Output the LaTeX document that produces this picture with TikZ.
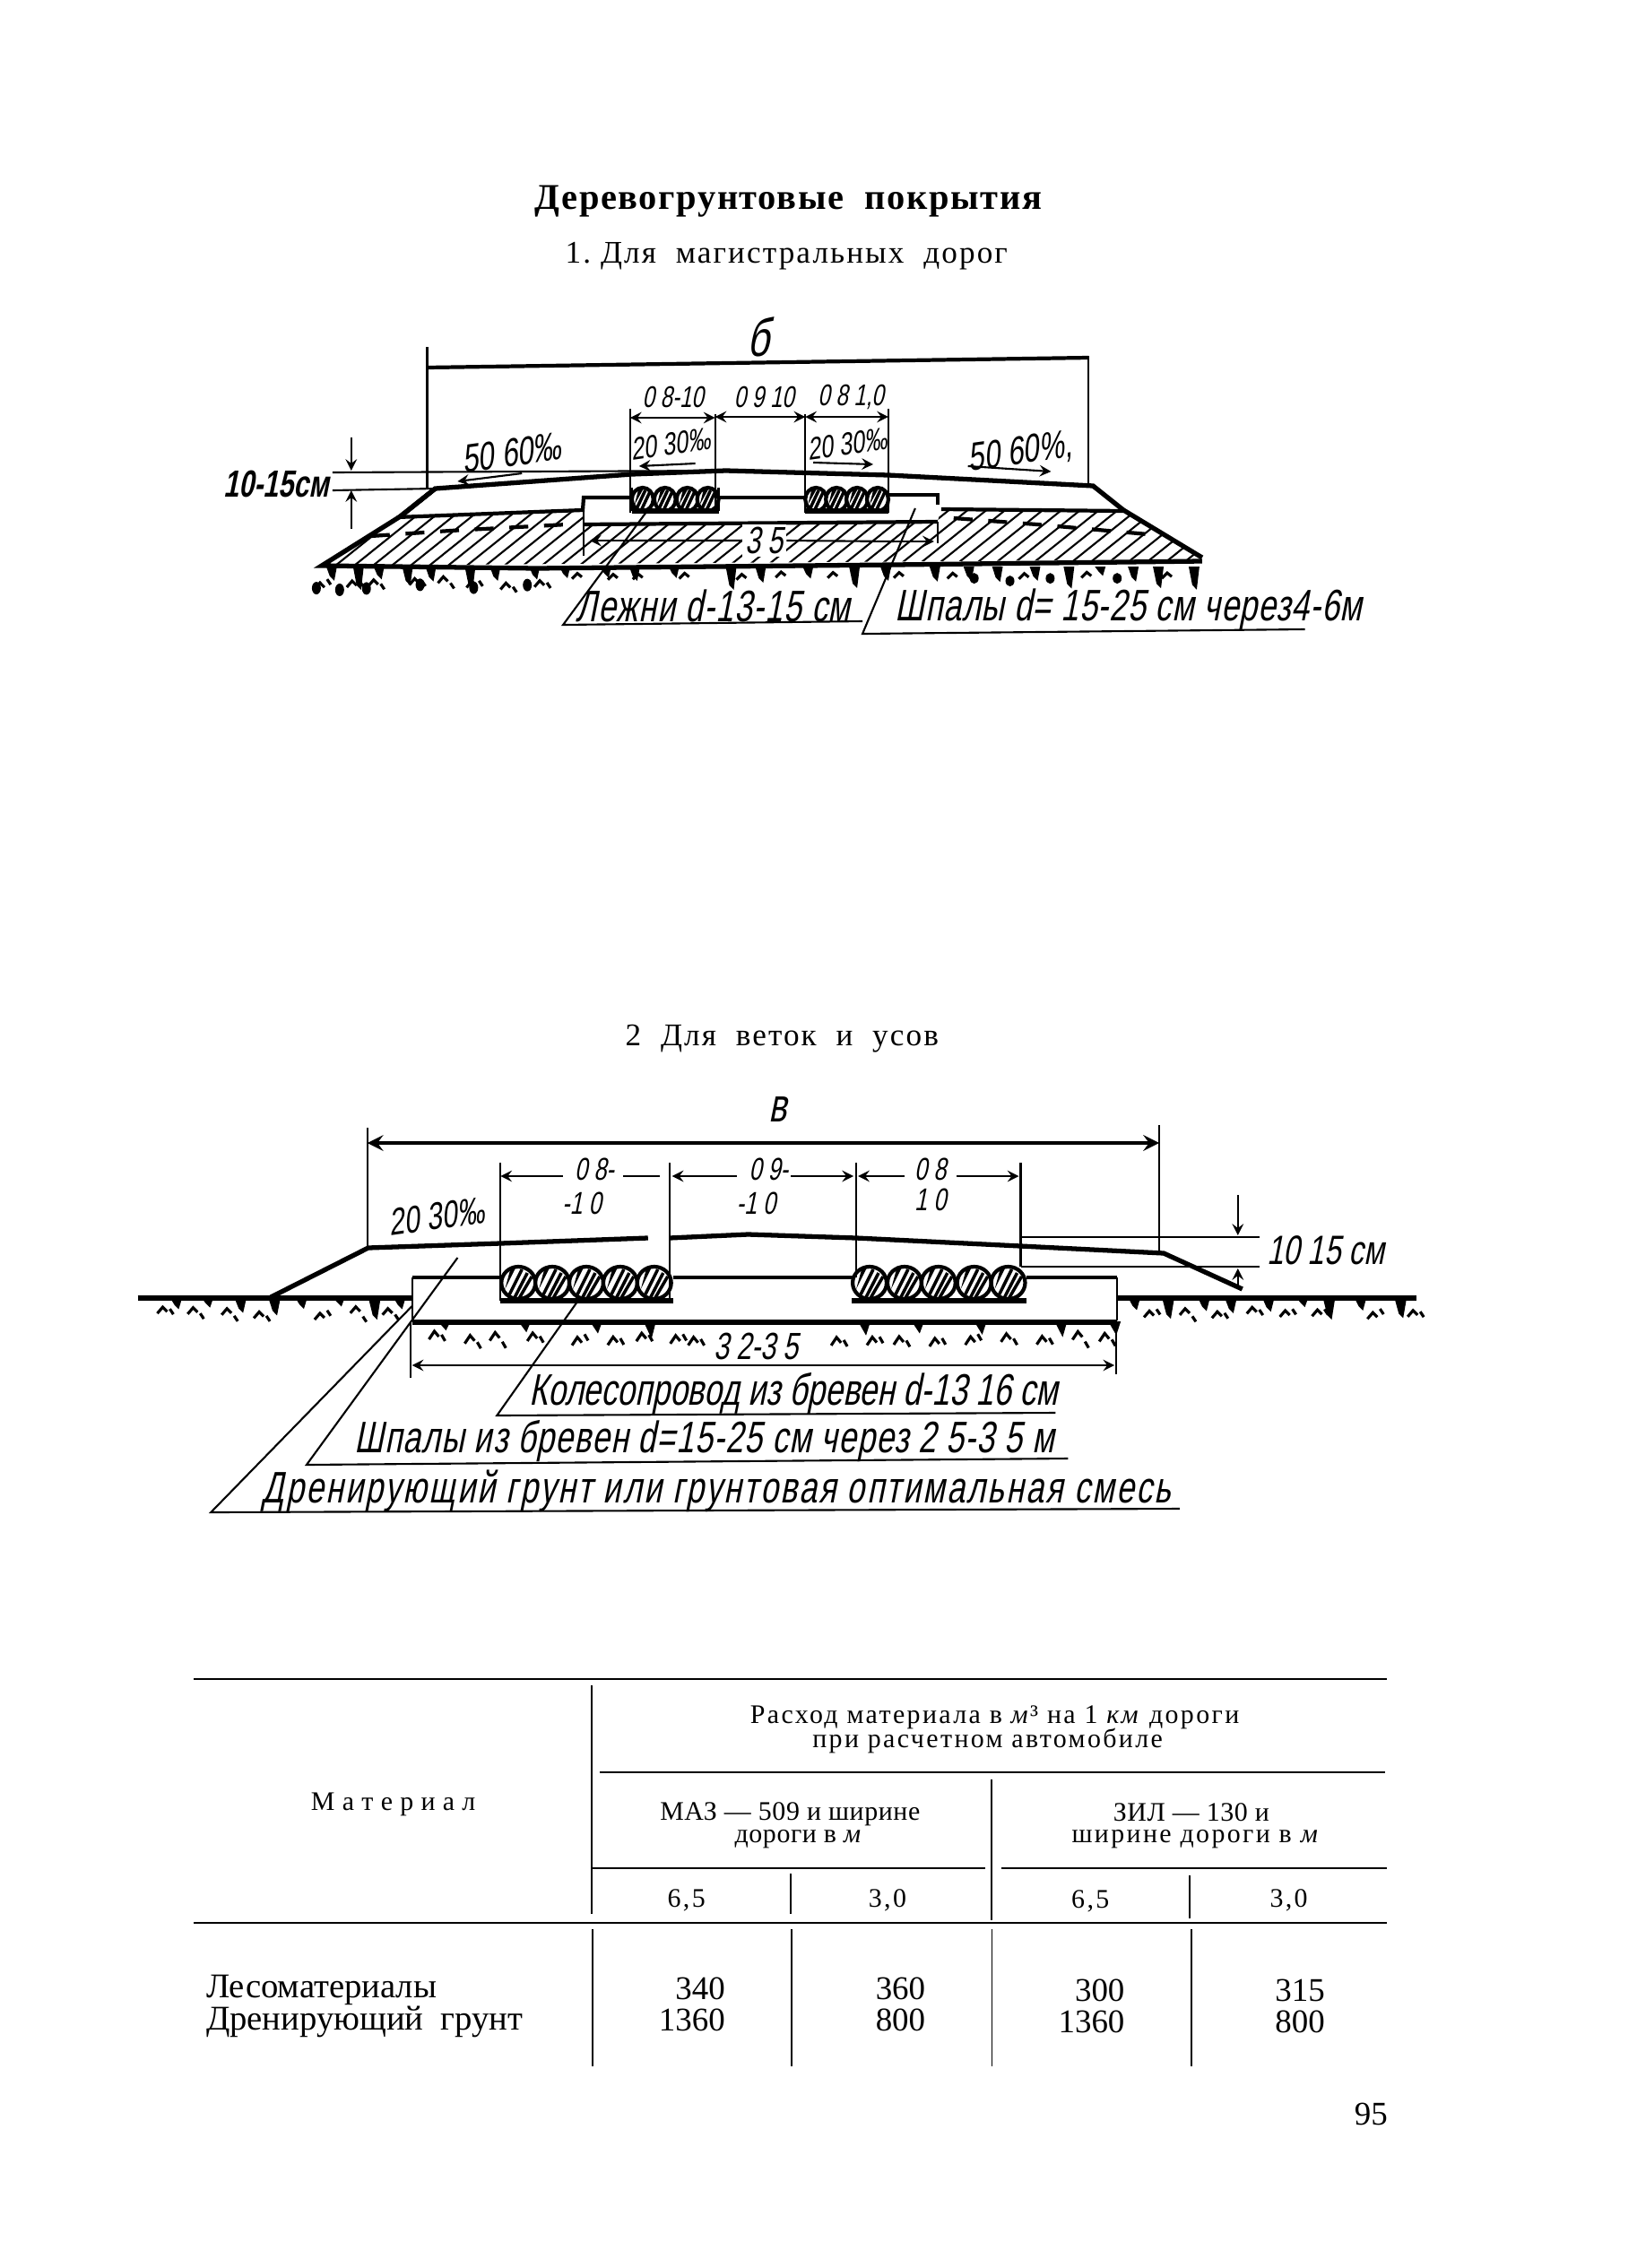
\documentclass[tikz,border=0pt]{standalone}
\usepackage{fontspec}
\setmainfont{Liberation Serif}
\newfontfamily\handfont[FakeSlant=.2,FakeStretch=.72]{Liberation Sans}
\newfontfamily\wideserif[LetterSpace=8]{Liberation Serif}
\newcommand{\hs}[1]{\handfont\fontsize{#1}{#1}\selectfont}
\newcommand{\hw}[2]{\handfont\fontsize{#1}{#1}\selectfont\addfontfeature{LetterSpace=#2}}
\newcommand{\ts}[1]{\fontsize{#1}{#1}\selectfont}
\begin{document}
\begin{tikzpicture}[x=0.00996cm,y=-0.01cm,>=stealth,
    thinl/.style={line width=.6pt},
    thickl/.style={line width=1.2pt},
    heavyl/.style={line width=1.5pt},
    hand/.style={inner sep=0pt},
    tabl/.style={inner sep=0pt,align=center,font=\wideserif\ts{8.5}},
    tnum/.style={inner sep=0pt,anchor=east,font=\ts{10.5}},
    trule/.style={line width=.8pt},
    tvert/.style={line width=.5pt}]
    \useasboundingbox (0,0) rectangle (1831,2530);
    \pgfmathsetseed{95}

    % headings
    \node[inner sep=0pt,font=\bfseries\fontsize{11.5}{12}\selectfont] (title) at (882,225) {\addfontfeature{LetterSpace=4}Деревогрунтовые\ \ покрытия};
    \node[inner sep=0pt,font=\fontsize{10}{12}\selectfont] (sub1) at (880,286) {\addfontfeature{LetterSpace=6}1.\ Для\ \ магистральных\ \ дорог};
    \node[inner sep=0pt,font=\fontsize{10}{12}\selectfont] (sub2) at (875,1159) {\addfontfeature{LetterSpace=6}2\ \ Для\ \ веток\ \ и\ \ усов};

    % road 1: hatching
    \begin{scope}
        \clip (360,631) -- (444,577) -- (652,569) -- (652,585) -- (1049,582) -- (1053,568) -- (1257,570) -- (1345,624) -- cycle;
        \foreach \hx in {280,301,...,1400}
            \draw[thinl] (\hx,640) -- ++(100,-80);
    \end{scope}
    \draw[thickl,dash pattern=on 6pt off 5pt] (415,598) -- (504,592) -- (635,585);
    \draw[thickl,dash pattern=on 6pt off 5pt] (1067,578) -- (1160,585) -- (1296,597);

    % road 1: outline
    \draw[heavyl] (448,576) -- (487,545) -- (707,529) -- (812,525) -- (994,530) -- (1223,542) -- (1257,569) -- (1345,622);
    \draw[heavyl] (487,545) -- (448,576) -- (360,631) -- (600,634) -- (1000,630) -- (1345,626);
    \draw[thickl] (444,577) -- (652,569) -- (653,555) -- (707,555);
    \draw[thickl] (804,555) -- (901,555);
    \draw[thickl] (994,552) -- (1049,552) -- (1049,563);
    \draw[thickl] (1053,568) -- (1257,570);
    \draw[thickl] (652,585) -- (1049,582);
    \draw[thinl] (653,569) -- (653,620);
    \draw[thinl] (1049,582) -- (1049,606);

    % road 1: logs
    \foreach \lx in {719,744,769,792,913,936,959,982} {
        \fill[white] (\lx,557) ellipse (12 and 13);
        \draw[thickl] (\lx,557) ellipse (12 and 13);
        \draw[line width=1pt] (\lx-6,566) -- (\lx+3,547) (\lx-1,568) -- (\lx+8,549);
        \fill (\lx-5,547) -- (\lx+1,545) -- (\lx-9,563) -- cycle;
    }
    \draw[heavyl] (707,570) -- (804,570) (901,570) -- (994,570);
    \draw[thinl] (707,544) -- (707,570) (804,544) -- (804,570);
    \draw[thinl] (901,544) -- (901,570) (994,544) -- (994,570);

    % road 1: soil
    \foreach \mx in {365,395,418,450,476,520,548,592,626,672,704,748,812,845,898,950,985,1040,1078,1110,1152,1190,1225,1262,1290,1330}
        \fill (\mx,632) -- ++(12,0) -- ++(-3,{10+rnd*16}) -- ++(-5,-5) -- cycle;
    \foreach \mx in {352,388,412,458,490,522,560,598}
        \draw[line width=.9pt] (\mx,{650+rnd*8}) -- ++(6,-7) -- ++(5,5) (\mx+14,{645+rnd*10}) -- ++(4,6);
    \foreach \mx in {640,680,708,760,824,868,926,1000,1060,1140,1210,1300}
        \draw[line width=.9pt] (\mx,{644+rnd*3}) -- ++(6,-6) -- ++(5,4);
    \foreach \mx in {354,380,410,470,530,590}
        \fill (\mx,{650+rnd*10}) ellipse (5 and 7);
    \foreach \mx in {1090,1130,1175,1250}
        \fill (\mx,{645+rnd*4}) ellipse (5 and 6);

    % road 1: dimensions
    \draw[thinl] (478,387) -- (478,545);
    \draw[thinl] (1218,397) -- (1218,540);
    \draw[thickl] (478,410) -- (1218,399);
    \node[hand,font=\hs{17}] (b1) at (848,376) {б};
    \draw[thinl] (705,456) -- (705,572);
    \draw[thinl] (800,462) -- (800,572);
    \draw[thinl] (901,462) -- (901,572);
    \draw[thinl] (994,456) -- (994,572);
    \draw[thinl,<->] (705,466) -- (800,466);
    \draw[thinl,<->] (800,465) -- (901,465);
    \draw[thinl,<->] (901,465) -- (994,465);
    \node[hand,font=\hs{9.5}] (w1a) at (753,443) {0 8-10};
    \node[hand,font=\hs{9.5}] (w1b) at (855,443) {0 9 10};
    \node[hand,font=\hs{9.5}] (w1c) at (952,443) {0 8 1,0};
    \node[hand,font=\hs{10},rotate=8] (s1a) at (750,495) {20 30‰};
    \node[hand,font=\hs{10},rotate=8] (s1b) at (948,495) {20 30‰};
    \node[hand,font=\hs{12.5},rotate=8] (s1c) at (572,505) {50 60‰};
    \node[hand,font=\hs{12.5},rotate=8] (s1d) at (1141,505) {50 60\%,};
    \draw[thinl,->] (778,517) -- (715,520);
    \draw[thinl,->] (910,516) -- (977,518);
    \draw[thinl,->] (584,528) -- (512,537);
    \draw[thinl,->] (1083,520) -- (1176,526);
    \node[hand,font=\bfseries\hs{12}] (h1) at (309,540) {10-15см};
    \draw[thinl] (372,527) -- (812,525);
    \draw[thinl] (372,547) -- (487,545);
    \draw[thinl,->] (393,488) -- (393,525);
    \draw[thinl,->] (393,590) -- (393,547);
    \draw[thinl] (700,603) -- (835,603) (880,603) -- (1000,604);
    \draw[thinl,->] (700,603) -- (660,603);
    \draw[thinl,->] (1000,604) -- (1045,604);
    \node[hand,font=\hs{12},fill=white,inner sep=1pt] (t1) at (855,603) {3 5};

    % road 1: callouts
    \draw[thinl] (724,570) -- (630,697) -- (965,693);
    \node[hand,font=\hw{14}{2.5}] (c1a) at (798,676) {Лежни d-13-15 см};
    \draw[thinl] (1024,567) -- (965,707) -- (1460,702);
    \node[hand,font=\hw{14}{2}] (c1b) at (1263,680) {Шпалы d= 15-25 см через4-6м};

    % road 2: surface
    \draw[heavyl] (303,1447) -- (412,1392) -- (560,1387) -- (725,1381);
    \draw[heavyl] (749,1381) -- (837,1377) -- (958,1381) -- (1142,1390) -- (1302,1398) -- (1390,1438);
    \draw[heavyl] (154,1448) -- (460,1448);
    \draw[heavyl] (1250,1448) -- (1585,1448);
    \draw[thickl] (461,1425) -- (560,1425);
    \draw[thickl] (753,1425) -- (958,1425);
    \draw[thickl] (1148,1425) -- (1250,1425);
    \draw[thinl] (461,1425) -- (461,1473);
    \draw[thinl] (1250,1425) -- (1250,1473);
    \draw[heavyl] (461,1475) -- (1250,1475);

    % road 2: logs
    \foreach \lx in {580,618,656,694,732,973,1012,1050,1090,1128} {
        \fill[white] (\lx,1431) ellipse (19 and 18);
        \draw[thickl] (\lx,1431) ellipse (19 and 18);
        \draw[line width=1pt] (\lx-10,1444) -- (\lx+4,1416) (\lx-4,1447) -- (\lx+10,1420) (\lx+1,1448) -- (\lx+15,1424);
        \fill (\lx-9,1416) -- (\lx-3,1414) -- (\lx-15,1438) -- cycle;
    }
    \draw[heavyl] (560,1451) -- (753,1451) (953,1451) -- (1148,1451);
    \draw[thinl] (560,1413) -- (560,1451) (749,1413) -- (749,1451);

    % road 2: soil
    \foreach \mx in {190,225,262,300,330,372,412,440,1262,1300,1340,1370,1412,1450,1480,1515,1560}
        \fill (\mx,1447) -- ++(14,0) -- ++(-4,{10+rnd*16}) -- ++(-5,-5) -- cycle;
    \foreach \mx in {176,210,248,284,352,392,428,1280,1320,1356,1395,1432,1468,1530,1575}
        \draw[line width=.9pt] (\mx,{1464+rnd*8}) -- ++(6,-7) -- ++(5,5) (\mx+14,{1460+rnd*10}) -- ++(4,6);
    \foreach \mx in {480,520,548,590,640,680,712,750,770,930,970,1000,1040,1080,1120,1160,1200,1230}
        \draw[line width=.9pt] (\mx,{1494+rnd*8}) -- ++(6,-9) -- ++(5,6) (\mx+14,{1488+rnd*10}) -- ++(4,7);
    \foreach \mx in {490,580,660,720,960,1020,1090,1180,1240}
        \fill (\mx,1474) -- ++(14,0) -- ++(-5,{10+rnd*10}) -- cycle;

    % road 2: dimensions
    \draw[thinl] (411,1258) -- (411,1392);
    \draw[thinl] (1297,1255) -- (1297,1398);
    \draw[thickl,<->] (411,1275) -- (1297,1275);
    \node[hand,font=\hs{15}] (b2) at (870,1238) {в};
    \draw[thinl] (560,1297) -- (560,1451);
    \draw[thinl] (749,1297) -- (749,1451);
    \draw[thinl] (958,1297) -- (958,1425);
    \draw[thinl] (1142,1297) -- (1142,1413);
    \draw[thinl,<-] (560,1312) -- (630,1312);
    \draw[thinl] (697,1312) -- (738,1312);
    \draw[thinl,<-] (752,1312) -- (825,1312);
    \draw[thinl,->] (885,1312) -- (955,1312);
    \draw[thinl,<-] (960,1312) -- (1012,1312);
    \draw[thinl,->] (1070,1312) -- (1140,1312);
    \node[hand,font=\hs{10}] (w2a) at (665,1304) {0 8-};
    \node[hand,font=\hs{10}] (w2b) at (651,1342) {-1 0};
    \node[hand,font=\hs{10}] (w2c) at (860,1304) {0 9-};
    \node[hand,font=\hs{10}] (w2d) at (846,1342) {-1 0};
    \node[hand,font=\hs{10}] (w2e) at (1041,1304) {0 8};
    \node[hand,font=\hs{10}] (w2f) at (1041,1338) {1 0};
    \node[hand,font=\hs{12},rotate=8] (s2a) at (488,1357) {20 30‰};
    \draw[thinl] (1142,1380) -- (1409,1380);
    \draw[thinl] (1142,1413) -- (1409,1413);
    \draw[thinl,->] (1385,1333) -- (1385,1378);
    \draw[thinl,->] (1385,1437) -- (1385,1415);
    \node[hand,font=\hs{13}] (h2) at (1483,1395) {10 15 см};
    \draw[thinl] (459,1475) -- (459,1537);
    \draw[thinl] (1249,1475) -- (1249,1533);
    \draw[thinl,<->] (461,1523) -- (1247,1523);
    \node[hand,font=\hs{12},fill=white,inner sep=1pt] (t2) at (846,1502) {3 2-3 5};

    % road 2: callouts
    \draw[thinl] (646,1452) -- (556,1579) -- (1181,1576);
    \node[hand,font=\hs{14}] (c2a) at (888,1555) {Колесопровод из бревен d-13 16 см};
    \draw[thinl] (512,1403) -- (343,1634) -- (1195,1627);
    \node[hand,font=\hw{14}{2.5}] (c2b) at (788,1608) {Шпалы из бревен d=15-25 см через 2 5-3 5 м};
    \draw[thinl] (461,1457) -- (236,1687) -- (1320,1683);
    \node[hand,font=\hw{14}{5}] (c2c) at (802,1663) {Дренирующий грунт или грунтовая оптимальная смесь};

    % table
    \draw[trule] (217,1873) -- (1552,1873);
    \draw[trule] (671,1977) -- (1550,1977);
    \draw[trule] (662,2084) -- (1102,2084);
    \draw[trule] (1120,2084) -- (1552,2084);
    \draw[trule] (217,2145) -- (1552,2145);
    \draw[tvert] (662,1880) -- (662,2135);
    \draw[tvert] (1109,1985) -- (1109,2142);
    \draw[tvert] (885,2090) -- (885,2135);
    \draw[tvert] (1331,2092) -- (1331,2140);
    \foreach \vx in {663,886,1110,1333}
        \draw[tvert] (\vx,2152) -- (\vx,2305);

    \node[tabl] (h0) at (1113,1916) {Расход материала в \emph{м}³ на 1 \emph{км} дороги};
    \node[tabl] (h1t) at (1105,1942) {при расчетном автомобиле};
    \node[tabl,font=\ts{8.5}] (mat) at (440,2013) {М\;а\;т\;е\;р\;и\;а\;л};
    \node[tabl,font=\ts{8.5}] (m1) at (884,2024) {\addfontfeature{LetterSpace=2}МАЗ — 509 и ширине};
    \node[tabl,font=\ts{8.5}] (m2) at (893,2052) {\addfontfeature{LetterSpace=2}дороги в \emph{м}};
    \node[tabl,font=\ts{8.5}] (z1) at (1333,2022) {\addfontfeature{LetterSpace=2}ЗИЛ — 130 и};
    \node[tabl] (z2) at (1338,2052) {ширине дороги в \emph{м}};
    \node[tabl] (w1) at (768,2120) {6,5};
    \node[tabl] (w2) at (993,2120) {3,0};
    \node[tabl] (w3) at (1220,2121) {6,5};
    \node[tabl] (w4) at (1442,2120) {3,0};
    \node[inner sep=0pt,anchor=west,font=\ts{11}] (r1) at (230,2220) {Лесоматериалы};
    \node[inner sep=0pt,anchor=west,font=\ts{11}] (r2) at (230,2255) {Дренирующий\ \ грунт};
    \node[tnum] (a1) at (812,2218) {340};
    \node[tnum] (a2) at (812,2253) {1360};
    \node[tnum] (b1t) at (1036,2218) {360};
    \node[tnum] (b2t) at (1036,2253) {800};
    \node[tnum] (c1) at (1259,2220) {300};
    \node[tnum] (c2) at (1259,2255) {1360};
    \node[tnum] (d1) at (1483,2220) {315};
    \node[tnum] (d2) at (1483,2255) {800};
    \node[inner sep=0pt,font=\ts{10.5}] (page) at (1534,2358) {95};
\end{tikzpicture}
\end{document}
